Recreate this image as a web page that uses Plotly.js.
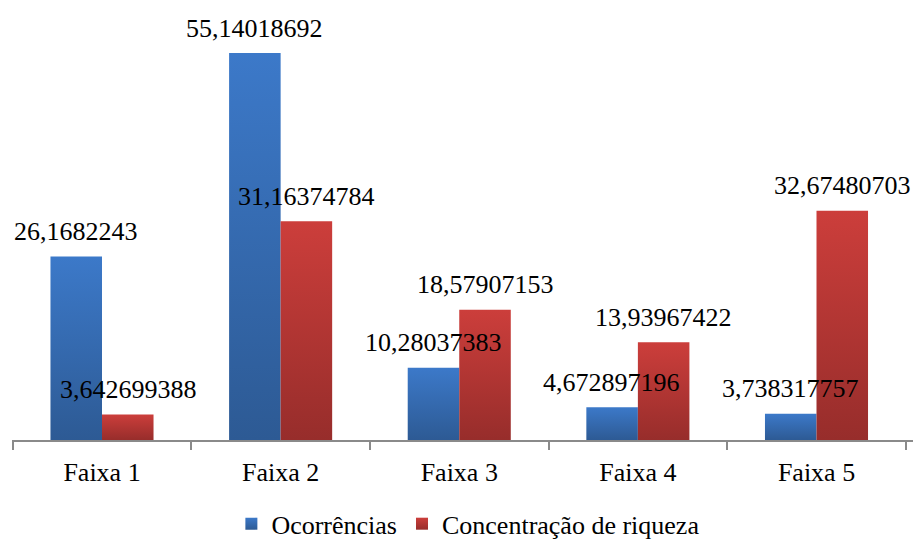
<!DOCTYPE html>
<html>
<head>
<meta charset="utf-8">
<script src="https://cdn.plot.ly/plotly-3.0.1.min.js"></script>
<style>
  html, body { margin: 0; padding: 0; background: #ffffff; }
  .c { width: 922px; height: 540px; }
</style>
</head>
<body>
<div id="chart" class="c"></div>
<script>
// ---- data ----
const categories = ['Faixa 1', 'Faixa 2', 'Faixa 3', 'Faixa 4', 'Faixa 5'];
const seriesNames = ['Ocorrências', 'Concentração de riqueza'];
const ocorrencias = [26.1682243, 55.14018692, 10.28037383, 4.672897196, 3.738317757];
const concentracao = [3.642699388, 31.16374784, 18.57907153, 13.93967422, 32.67480703];

// ---- style ----
const F = 'Liberation Serif';
const FONT_SIZE = 26;
const BLUE = '#3569AE';
const RED = '#B33634';
const AXIS = '#8a8a8a';
const BAR_OFFSET_PX = 26;   // half a bar width
const LABEL_LIFT_PX = 25;   // label centre above bar top

function fmt(v) { return String(v).replace('.', ','); }

const traces = [
  { type: 'bar', name: seriesNames[0], x: categories, y: ocorrencias, marker: { color: BLUE } },
  { type: 'bar', name: seriesNames[1], x: categories, y: concentracao, marker: { color: RED } }
];

const annotations = [];
[ocorrencias, concentracao].forEach((vals, s) => {
  vals.forEach((v, i) => {
    annotations.push({
      x: categories[i], y: v, xref: 'x', yref: 'y',
      text: fmt(v), showarrow: false,
      xanchor: 'center', yanchor: 'middle',
      xshift: s === 0 ? -BAR_OFFSET_PX : BAR_OFFSET_PX,
      yshift: LABEL_LIFT_PX,
      font: { family: F, size: FONT_SIZE, color: '#000' }
    });
  });
});

const layout = {
  width: 922, height: 540,
  margin: { l: 12, r: 9, t: 19, b: 100 },
  font: { family: F, size: FONT_SIZE, color: '#000' },
  barmode: 'group', bargap: 0.423, bargroupgap: 0,
  xaxis: {
    type: 'category', showgrid: false, zeroline: false,
    showline: true, linecolor: AXIS, linewidth: 2,
    ticks: 'outside', tickson: 'boundaries', ticklen: 8, tickwidth: 2, tickcolor: AXIS,
    ticklabelstandoff: 8,
    tickfont: { family: F, size: FONT_SIZE, color: '#000' },
    fixedrange: true
  },
  yaxis: { visible: false, range: [0, 60], fixedrange: true },
  showlegend: true,
  legend: {
    orientation: 'h', xref: 'container', yref: 'container',
    x: 0.508, xanchor: 'center', y: 0.03, yanchor: 'middle',
    font: { family: F, size: FONT_SIZE, color: '#000' }
  },
  annotations: annotations
};

Plotly.newPlot('chart', traces, layout, { displayModeBar: false }).then(gd => {
  // vertical gradient fill like the original (lighter at top, darker at bottom)
  const NS = 'http://www.w3.org/2000/svg';
  const svg = gd.querySelector('.main-svg');
  let defs = svg.querySelector('defs');
  if (!defs) { defs = document.createElementNS(NS, 'defs'); svg.insertBefore(defs, svg.firstChild); }
  const grads = [['gBlue', '#3C79C9', '#2D5A94'], ['gRed', '#CC3E3B', '#972D2B']];
  grads.forEach(([id, top, bot]) => {
    const g = document.createElementNS(NS, 'linearGradient');
    g.setAttribute('id', id);
    g.setAttribute('x1', '0'); g.setAttribute('y1', '0');
    g.setAttribute('x2', '0'); g.setAttribute('y2', '1');
    [[0, top], [1, bot]].forEach(([o, c]) => {
      const st = document.createElementNS(NS, 'stop');
      st.setAttribute('offset', o);
      st.setAttribute('stop-color', c);
      g.appendChild(st);
    });
    defs.appendChild(g);
  });
  const ids = ['gBlue', 'gRed'];
  gd.querySelectorAll('.barlayer .trace').forEach((tr, k) => {
    tr.querySelectorAll('path').forEach(p => { p.style.fill = 'url(#' + ids[k] + ')'; });
  });
  gd.querySelectorAll('.legend .traces').forEach((tr, k) => {
    tr.querySelectorAll('.legendpoints path').forEach(p => { p.style.fill = 'url(#' + ids[k] + ')'; });
  });
});
</script>
</body>
</html>
